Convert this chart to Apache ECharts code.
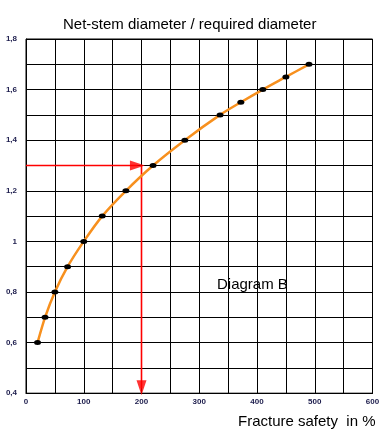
<!DOCTYPE html>
<html><head><meta charset="utf-8">
<script src="https://cdn.jsdelivr.net/npm/echarts@6/dist/echarts.min.js"></script>
<style>html,body{margin:0;padding:0;background:#fff}#c{width:388px;height:434px}</style>
</head><body><div id="c"></div>
<script>
const fractureSafety = [20, 33, 50, 72, 100, 132, 173, 220, 275, 336, 372, 410, 450, 490];
const diameterRatio = [0.6, 0.7, 0.8, 0.9, 1.0, 1.1, 1.2, 1.3, 1.4, 1.5, 1.55, 1.6, 1.65, 1.7];
const exampleSafety = 200;
const exampleRatio = 1.3;
const guideX = [0, 193];        // horizontal guide, ends at arrowhead
const arrowH = [193, 1.3];      // horizontal arrowhead centre
const guideY = [1.3, 0.42];     // vertical guide
const arrowV = [200, 0.422];    // vertical arrowhead centre

const chart = echarts.init(document.getElementById('c'));
const labelStyle = {fontFamily: 'Liberation Sans, Arial', fontSize: 8, fontWeight: 'bold', color: '#1c1c4c'};
const textStyle = {fontFamily: 'Liberation Sans, Arial', fontSize: 15, fontWeight: 'normal', color: '#000'};
const red = '#ff0000';
chart.setOption({
  animation: false,
  title: [
    {text: 'Net-stem diameter / required diameter', left: 58, top: 12, textStyle: textStyle},
    {text: 'Fracture safety  in %', left: 233, top: 409, textStyle: textStyle},
    {text: 'Diagram B', left: 212, top: 272, textStyle: textStyle}
  ],
  grid: {left: 26, right: 15.5, top: 39, bottom: 40.8, show: true, borderColor: '#000', borderWidth: 1},
  xAxis: {type: 'value', min: 0, max: 600, interval: 50,
    axisLine: {show: true, lineStyle: {color: '#000', width: 1}}, axisTick: {show: false},
    splitLine: {show: true, lineStyle: {color: '#000', width: 1}},
    axisLabel: Object.assign({margin: 5, formatter: v => (Math.round(v) % 100 === 0 ? String(Math.round(v)) : '')}, labelStyle)},
  yAxis: {type: 'value', min: 0.4, max: 1.8, interval: 0.1,
    axisLine: {show: true, lineStyle: {color: '#000', width: 1}}, axisTick: {show: false},
    splitLine: {show: true, lineStyle: {color: '#000', width: 1}},
    axisLabel: Object.assign({margin: 9, formatter: v => {
      const k = Math.round(v * 10);
      if (k % 2 !== 0) return '';
      return (k / 10).toString().replace('.', ',');
    }}, labelStyle)},
  series: [
    {type: 'line', data: guideX.map(x => [x, exampleRatio]), showSymbol: false, symbol: 'none',
     lineStyle: {color: red, width: 1.6}, z: 8, silent: true},
    {type: 'line', data: guideY.map(y => [exampleSafety, y]), showSymbol: false, symbol: 'none',
     lineStyle: {color: red, width: 1.6}, z: 8, silent: true},
    {type: 'scatter', data: [arrowH], symbol: 'triangle', symbolSize: [10, 15], symbolRotate: -90,
     itemStyle: {color: red}, z: 9, silent: true},
    {type: 'scatter', data: [arrowV], symbol: 'triangle', symbolSize: [10, 15], symbolRotate: 180,
     itemStyle: {color: red}, z: 9, silent: true},
    {
    type: 'line', smooth: 0.3,
    data: fractureSafety.map((x, i) => [x, diameterRatio[i]]),
    lineStyle: {color: '#f7901e', width: 2.5},
    symbol: 'circle', symbolSize: [7, 5],
    itemStyle: {color: '#000'},
    z: 10
  }]
});
</script></body></html>
